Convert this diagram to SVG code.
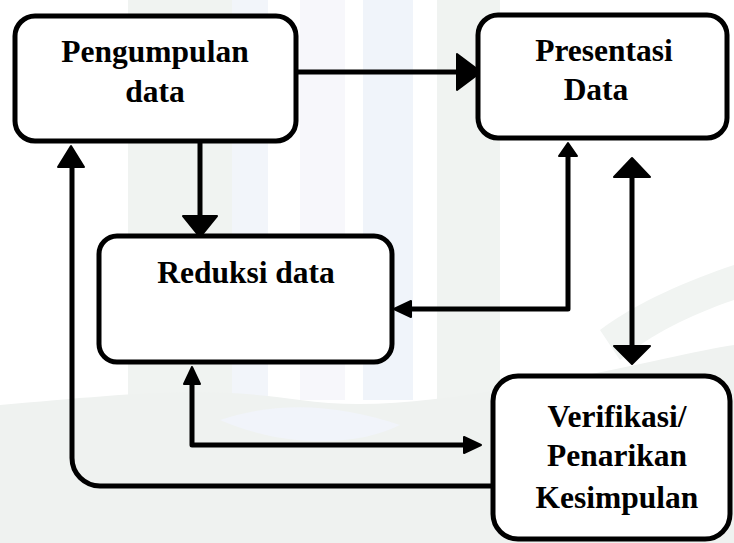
<svg xmlns="http://www.w3.org/2000/svg" width="734" height="543" viewBox="0 0 734 543">
<style>
.box{fill:#fff;stroke:#000;stroke-width:5}
.ln{fill:none;stroke:#000;stroke-width:5;stroke-linejoin:round}
.ah{fill:#000;stroke:#000;stroke-width:2;stroke-linejoin:round}
.t{font-family:"Liberation Serif","Times New Roman",serif;font-weight:bold;font-size:31.5px;fill:#000;text-anchor:middle}
</style>
<g id="watermark">
<rect x="0" y="0" width="734" height="543" fill="#ffffff"/>
<rect x="128" y="0" width="104" height="400" fill="#f0f3f1"/>
<rect x="232" y="0" width="36" height="400" fill="#f2f5fa"/>
<rect x="300" y="0" width="45" height="400" fill="#f7f7fb"/>
<rect x="363" y="0" width="50" height="400" fill="#f0f4fa"/>
<rect x="437" y="0" width="63" height="400" fill="#f0f3f1"/>
<path d="M0,405 C120,395 200,385 300,400 C380,412 470,395 560,380 C640,365 700,350 734,345 L734,543 L0,543 Z" fill="#eff2f0"/>
<path d="M220,420 C280,400 340,405 400,425 C360,445 290,450 220,420 Z" fill="#f1f4fa"/>
<path d="M600,330 C640,300 690,280 734,265 L734,300 C690,315 650,335 620,360 Z" fill="#f1f4f2"/>
</g>
<g id="connectors">
<line class="ln" x1="298" y1="72" x2="459" y2="72"/>
<polygon class="ah" points="457,54 481,72 457,90"/>
<line class="ln" x1="200" y1="143" x2="200" y2="217"/>
<polygon class="ah" points="183,216 217,216 200,237"/>
<polyline class="ln" points="568,155 568,309 410,309"/>
<polygon class="ah" points="559,156 577,156 568,143"/>
<polygon class="ah" points="411,301 411,317 394,309"/>
<line class="ln" x1="632" y1="175" x2="632" y2="347"/>
<polygon class="ah" points="614,177 650,177 632,158"/>
<polygon class="ah" points="614,346 650,346 632,364"/>
<polyline class="ln" points="192,383 192,445 465,445"/>
<polygon class="ah" points="184,384 200,384 192,367"/>
<polygon class="ah" points="464,437 464,453 481,445"/>
<path class="ln" d="M493,486 H100 A28,28 0 0 1 72,458 V166"/>
<polygon class="ah" points="58,167 84,167 71,146"/>
</g>
<g id="pengumpulan">
<rect class="box" x="15" y="16" width="281" height="125" rx="20"/>
<text class="t" x="155" y="62">Pengumpulan</text>
<text class="t" x="155" y="102">data</text>
</g>
<g id="presentasi">
<rect class="box" x="478" y="15" width="249" height="123" rx="20"/>
<text class="t" x="604" y="61">Presentasi</text>
<text class="t" x="596" y="100">Data</text>
</g>
<g id="reduksi">
<rect class="box" x="99" y="236" width="293" height="126" rx="18"/>
<text class="t" x="246" y="283">Reduksi data</text>
</g>
<g id="verifikasi">
<rect class="box" x="493" y="376" width="237" height="163" rx="25"/>
<text class="t" x="617" y="427">Verifikasi/</text>
<text class="t" x="617" y="466">Penarikan</text>
<text class="t" x="617" y="508">Kesimpulan</text>
</g>
</svg>
